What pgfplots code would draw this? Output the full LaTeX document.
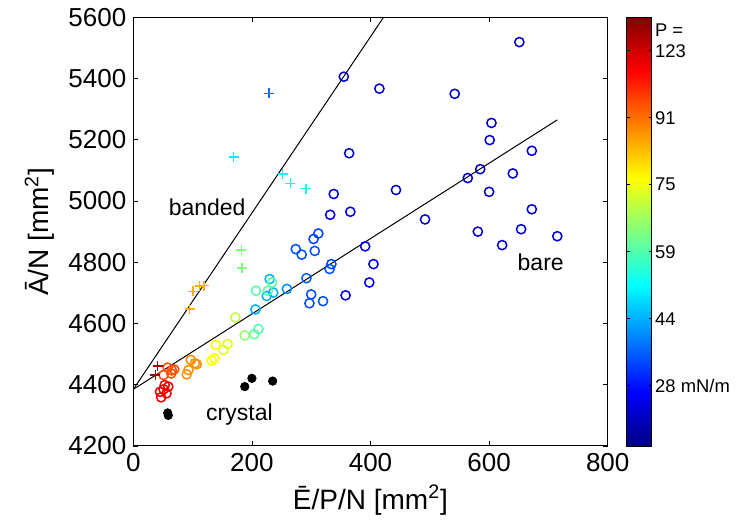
\documentclass[border=0pt]{standalone}
\usepackage{fontspec}
\setmainfont{Liberation Sans}
\usepackage{pgfplots}
\pgfplotsset{compat=1.18}

\pgfplotstableread{
x y m
355 5406 0.6
415 5367 0.6
542 5350 0.6
651 5519 0.6
604 5255 0.6
601 5199 0.6
672 5164 0.6
364 5156 0.6
585 5104 0.6
564 5075 0.6
640 5090 0.6
443 5036 0.6
600 5030 0.6
338 5023 0.7
366 4965 0.7
672 4973 0.6
332 4955 0.7
492 4940 0.6
581 4900 0.6
654 4908 0.6
715 4885 0.6
622 4856 0.6
391 4852 0.8
405 4794 0.8
398 4734 0.8
358 4692 0.8
312 4894 1.3
304 4876 1.3
306 4837 1.4
274 4843 1.4
284 4825 1.4
334 4794 1.3
331 4778 1.4
292 4748 1.5
300 4695 1.4
297 4666 1.4
320 4673 1.4
259 4713 1.8
230 4745 2.0
225 4690 2.0
236 4701 2.0
206 4646 2.0
207 4707 3.0
234 4734 3.1
227 4707 3.1
211 4582 3.0
204 4565 3.1
188 4561 3.4
172 4620 3.7
139 4530 4.1
152 4514 3.9
159 4533 3.9
132 4479 4.1
137 4486 4.1
97 4481 4.8
104 4470 4.8
107 4467 4.8
93 4448 4.8
90 4434 4.8
58 4456 5.2
69 4450 5.2
51 4432 5.2
64 4437 5.2
65 4447 5.2
53 4399 5.8
59 4394 5.8
45 4377 5.8
56 4372 5.8
47 4359 5.8
51 4385 5.8
}\baretable

\pgfplotstableread{
x y m
229 5352 1.6
169 5144 2.4
252 5088 2.5
265 5058 2.5
291 5040 2.6
182 4840 3.3
183 4781 3.3
95 4648 4.6
101 4705 4.6
112 4722 4.6
119 4724 4.6
41 4461 6.3
37 4432 6.3
}\bandedtable

\pgfplotstableread{
x y
188 4394
200 4421
235 4412
58 4308
59 4300
}\crystaltable

\begin{document}
\begin{tikzpicture}
\begin{axis}[
    name=main,
    scale only axis,
    width=237.2pt, height=214.35pt,
    xmin=0, xmax=800, ymin=4200, ymax=5600,
    xtick={0,200,...,800},
    ytick={4200,4400,...,5600},
    tick align=inside,
    major tick length=2.3pt,
    tick style={black, line width=0.4pt},
    axis line style={line width=0.5pt},
    ticklabel style={font=\fontsize{13}{13}\selectfont},
    /pgf/number format/assume math mode=true,
    /pgf/number format/set thousands separator={},
    xlabel={Ē/P/N [mm\textsuperscript{2}]},
    ylabel={Ā/N [mm\textsuperscript{2}]},
    label style={font=\fontsize{14}{14}\selectfont},
    colormap/jet,
    point meta min=0.1, point meta max=6.5,
    colorbar,
    colorbar style={
        at={(parent axis.north east)}, anchor=north west,
        xshift=1pt,
        width=12.5pt,
        ytick={1,2,3,4,5,6},
        yticklabels={28 mN/m,44,59,75,91,123},
        yticklabel style={font=\fontsize{9.2}{9.2}\selectfont, xshift=-1.8pt},
        major tick length=1.5pt,
        tick align=inside,
        axis line style={line width=0.4pt},
    },
    clip=false,
]
\addplot[black, line width=0.5pt] coordinates {(0,4385) (422,5600)};
\addplot[black, line width=0.5pt] coordinates {(0,4385) (715,5265)};

\addplot[scatter, only marks, mark=o, mark size=2.3pt, line width=0.75pt,
    point meta=explicit, scatter/use mapped color={draw=mapped color}]
    table[meta=m] {\baretable};
\addplot[scatter, only marks, mark=+, mark size=2.5pt, line width=0.7pt,
    point meta=explicit, scatter/use mapped color={draw=mapped color}]
    table[meta=m] {\bandedtable};
\addplot[only marks, mark=*, mark size=2.1pt, black] table {\crystaltable};

\node[font=\fontsize{11.5}{11.5}\selectfont] at (axis cs:124.5,4980) {banded};
\node[font=\fontsize{11.5}{11.5}\selectfont] at (axis cs:179,4302) {crystal};
\node[font=\fontsize{11.5}{11.5}\selectfont] at (axis cs:687,4801) {bare};
\node[anchor=west, inner sep=0pt, font=\fontsize{9.2}{9.2}\selectfont]
    at (rel axis cs:1.099,0.970) {P =};
\end{axis}
\pgfresetboundingbox
\path (main.south west) ++(-66.65pt,-38.5pt) rectangle ++(373.5pt,261.5pt);
\end{tikzpicture}
\end{document}
